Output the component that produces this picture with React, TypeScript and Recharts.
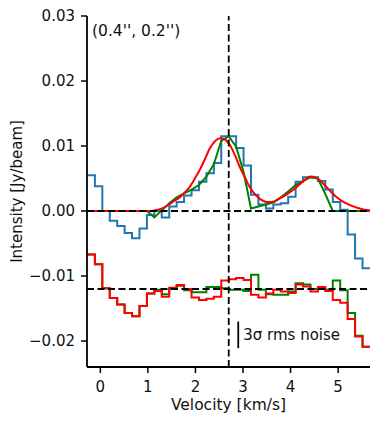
import React from 'react';
import { ComposedChart, Line, XAxis, YAxis, ReferenceLine } from 'recharts';

// Channel velocities (left edges of channels, km/s); last entry closes the final channel
const velocity = [
  -0.271, -0.114, 0.042, 0.198, 0.355, 0.511, 0.667, 0.824, 0.98, 1.136,
  1.292, 1.449, 1.605, 1.761, 1.918, 2.074, 2.23, 2.387, 2.543, 2.699,
  2.855, 3.012, 3.168, 3.324, 3.481, 3.637, 3.793, 3.95, 4.106, 4.262,
  4.418, 4.575, 4.731, 4.887, 5.044, 5.2, 5.356, 5.513, 5.669,
];

// Observed spectrum (Jy/beam)
const observed = [
  0.0055, 0.0038, 0.0, -0.0015, -0.0023, -0.0034, -0.0042, -0.0027, -0.0006, 0.0,
  -0.001, 0.0007, 0.0014, 0.0024, 0.0032, 0.0045, 0.0058, 0.0074, 0.0115, 0.0115,
  0.0097, 0.007, 0.0025, 0.001, 0.0004, 0.001, 0.0012, 0.0022, 0.0045, 0.0052,
  0.0052, 0.0046, 0.0033, 0.0014, 0.0002, -0.0036, -0.0073, -0.0088, -0.0088,
];

// Green model sampled at the channel velocities
const modelGreen = [
  0, 0, 0, 0, 0, 0, 0, 0, 0, -0.001,
  0.0001, 0.0012, 0.0021, 0.0027, 0.0033, 0.004, 0.0053, 0.0072, 0.0108, 0.0115,
  0.0099, 0.006, 0.0004, 0.0007, 0.001, 0.0013, 0.0021, 0.003, 0.004, 0.0046,
  0.0052, 0.005, 0.0026, 0, 0, 0, 0, 0, 0,
];

// Residuals (offset by -0.012) for the green model
const residualGreen = [
  -0.0067, -0.0082, -0.0119, -0.0134, -0.0144, -0.0157, -0.0162, -0.0146, -0.0127, -0.0121,
  -0.0128, -0.012, -0.0115, -0.0122, -0.0125, -0.0125, -0.0117, -0.0117, -0.0119, -0.0121,
  -0.0121, -0.0123, -0.0098, -0.0121, -0.0128, -0.0129, -0.0129, -0.0124, -0.0111, -0.0113,
  -0.012, -0.012, -0.0121, -0.0107, -0.0122, -0.0157, -0.0192, -0.0209, -0.0209,
];

// Residuals (offset by -0.012) for the red model
const residualRed = [
  -0.0067, -0.0082, -0.0119, -0.0134, -0.0144, -0.0157, -0.0162, -0.0146, -0.0127, -0.0123,
  -0.0132, -0.0118, -0.0114, -0.012, -0.0133, -0.0137, -0.0135, -0.0132, -0.0107, -0.0105,
  -0.0103, -0.0106, -0.0129, -0.0133, -0.0127, -0.0121, -0.0124, -0.0126, -0.0113, -0.0116,
  -0.0124, -0.0117, -0.0123, -0.0137, -0.0141, -0.0166, -0.0193, -0.0209, -0.0209,
];

// Smooth red model
const modelVelocity = [
  -0.28, 0.9, 1.05, 1.15, 1.3, 1.45, 1.56, 1.67, 1.78, 1.88,
  1.98, 2.09, 2.2, 2.3, 2.42, 2.51, 2.62, 2.72, 2.83, 2.93,
  3.04, 3.14, 3.25, 3.35, 3.49, 3.6, 3.77, 3.95, 4.13, 4.27,
  4.41, 4.55, 4.69, 4.83, 4.97, 5.11, 5.25, 5.4, 5.55, 5.669,
];
const modelRed = [
  0, 0, 0, 0.0001, 0.0004, 0.001, 0.0016, 0.0021, 0.0029, 0.0037,
  0.0049, 0.0063, 0.008, 0.0096, 0.0108, 0.0112, 0.011, 0.0102, 0.0086, 0.0068,
  0.0052, 0.0037, 0.0026, 0.0019, 0.0014, 0.0014, 0.0019, 0.0027, 0.0037, 0.0046,
  0.0053, 0.0051, 0.0042, 0.0031, 0.0021, 0.0014, 0.0009, 0.0005, 0.0002, 0.0001,
];

const xTicks = [0, 1, 2, 3, 4, 5];
const yTicks = [-0.02, -0.01, 0, 0.01, 0.02, 0.03];
const xDomain = [-0.28, 5.67];
const yDomain = [-0.024, 0.03];
const systemicVelocity = 2.7;
const residualOffset = -0.012;
const noiseBarVelocity = 2.9;
const noiseBarTop = -0.017;
const noiseBarBottom = -0.0211;
const positionLabel = "(0.4'', 0.2'')";
const noiseLabel = '3σ rms noise';

const channelRows = velocity.map((v, i) => ({
  v,
  obs: observed[i],
  green: modelGreen[i],
  resGreen: residualGreen[i],
  resRed: residualRed[i],
}));
const modelRows = modelVelocity.map((v, i) => ({ v, red: modelRed[i] }));

const FONT = 'DejaVu Sans';
const TXT = '#111';

const fmtY = (t: number) => {
  const s = Math.abs(t).toFixed(2);
  return t < -1e-9 ? '\u2212' + s : s;
};

export default function App() {
  return (
    <div style={{ position: 'absolute', left: 0, top: 0, width: 386, height: 424, background: '#fff' }}>
      <ComposedChart
        width={386}
        height={424}
        data={channelRows}
        margin={{ top: 16, right: 16, bottom: 0, left: 0 }}
      >
        <XAxis
          dataKey="v"
          type="number"
          domain={xDomain}
          allowDataOverflow
          ticks={xTicks}
          tickSize={6}
          tickMargin={8}
          height={57}
          tick={{ fontSize: 15, fill: TXT, fontFamily: FONT }}
          axisLine={{ stroke: '#000', strokeWidth: 1.8 }}
          tickLine={{ stroke: '#000', strokeWidth: 1.5 }}
          label={{ value: 'Velocity [km/s]', position: 'insideBottom', offset: 14, fontSize: 15.5, fill: TXT, fontFamily: FONT }}
        />
        <XAxis
          xAxisId="top"
          dataKey="v"
          orientation="top"
          type="number"
          domain={xDomain}
          allowDataOverflow
          height={0}
          tick={false}
          tickLine={false}
          axisLine={{ stroke: '#000', strokeWidth: 1.8 }}
        />
        <YAxis
          type="number"
          domain={yDomain}
          allowDataOverflow
          ticks={yTicks}
          tickFormatter={fmtY}
          tickSize={6}
          tickMargin={6}
          width={87}
          tick={{ fontSize: 15, fill: TXT, fontFamily: FONT }}
          axisLine={{ stroke: '#000', strokeWidth: 1.8 }}
          tickLine={{ stroke: '#000', strokeWidth: 1.5 }}
          label={{
            value: 'Intensity [Jy/beam]',
            angle: -90,
            position: 'insideLeft',
            offset: 17,
            fontSize: 15,
            fill: TXT,
            fontFamily: FONT,
            style: { textAnchor: 'middle' },
          }}
        />
        <YAxis
          yAxisId="right"
          orientation="right"
          type="number"
          domain={yDomain}
          width={0}
          tick={false}
          tickLine={false}
          axisLine={{ stroke: '#000', strokeWidth: 1.8 }}
        />
        <Line dataKey="obs" type="stepAfter" stroke="#1f77b4" strokeWidth={2} dot={false} isAnimationActive={false} />
        <Line dataKey="green" type="linear" stroke="#008000" strokeWidth={2} dot={false} isAnimationActive={false} />
        <Line data={modelRows} dataKey="red" type="monotone" stroke="#ff0000" strokeWidth={2} dot={false} isAnimationActive={false} />
        <Line dataKey="resGreen" type="stepAfter" stroke="#008000" strokeWidth={2} dot={false} isAnimationActive={false} />
        <Line dataKey="resRed" type="stepAfter" stroke="#ff0000" strokeWidth={2} dot={false} isAnimationActive={false} />
        <ReferenceLine y={0} stroke="#000" strokeWidth={1.8} strokeDasharray="7 3.5" />
        <ReferenceLine y={residualOffset} stroke="#000" strokeWidth={1.8} strokeDasharray="7 3.5" />
        <ReferenceLine x={systemicVelocity} stroke="#000" strokeWidth={1.8} strokeDasharray="7 3.5" />
        <ReferenceLine
          segment={[
            { x: noiseBarVelocity, y: noiseBarTop },
            { x: noiseBarVelocity, y: noiseBarBottom },
          ]}
          stroke="#000"
          strokeWidth={1.8}
          label={{ value: noiseLabel, position: 'right', offset: 5, fontSize: 15, fill: TXT, fontFamily: FONT }}
        />
      </ComposedChart>
      <div
        style={{
          position: 'absolute',
          left: 92,
          top: 23,
          fontFamily: FONT,
          fontSize: 15.5,
          lineHeight: '17px',
          color: TXT,
          whiteSpace: 'nowrap',
        }}
      >
        {positionLabel}
      </div>
    </div>
  );
}
